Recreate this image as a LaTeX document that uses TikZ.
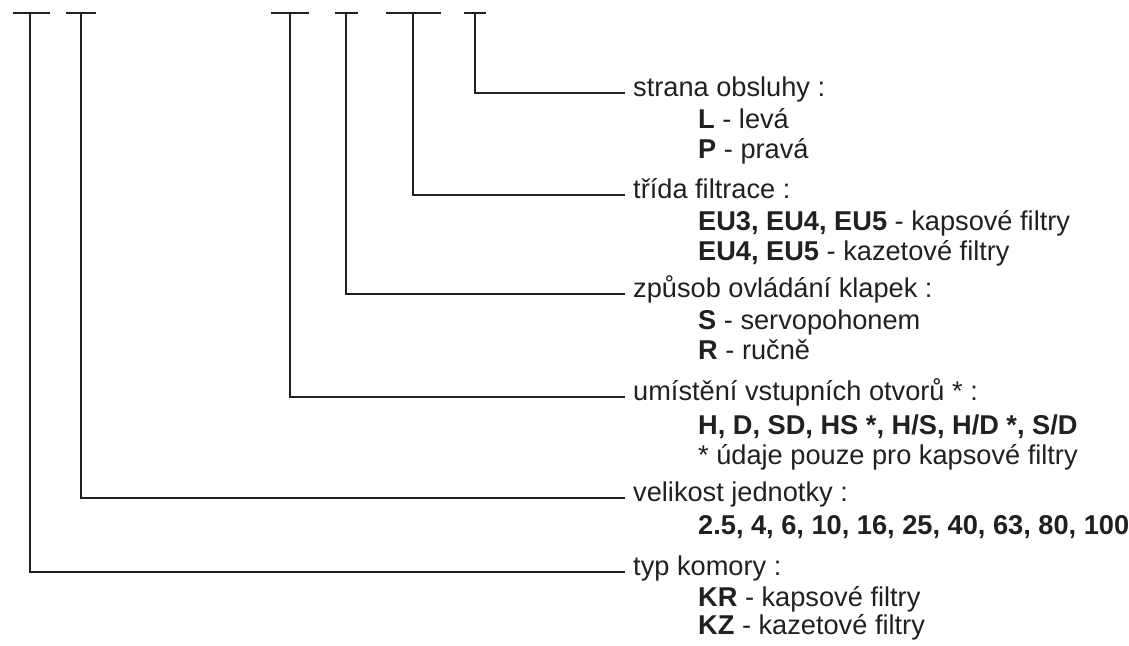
\documentclass[tikz,border=0pt]{standalone}
\usepackage{fontspec}
\setmainfont{Liberation Sans}
\usepackage{xcolor}
\usetikzlibrary{positioning, calc}
\definecolor{ink}{HTML}{231F20}

\begin{document}
\begin{tikzpicture}[
    x=1pt, y=-1pt,
    hdr/.style={anchor=west, inner xsep=8pt, inner ysep=0pt, text height=0.6em, text depth=0pt, font=\fontsize{27.2}{30}\selectfont, text=ink},
    item/.style={anchor=base west, inner sep=0pt, font=\fontsize{27.2}{30}\selectfont, text=ink},
    ln/.style={draw=ink, line width=1.6pt},
]
\useasboundingbox (0,0) rectangle (1129,645);

\foreach \n/\a/\s/\b in {1/13/30/50, 2/66/81/96, 3/271/290/309, 4/335/346/358, 5/386/413/441, 6/464/475/486} {
    \coordinate (bl\n) at (\a,13);
    \coordinate (top\n) at (\s,13);
    \coordinate (br\n) at (\b,13);
    \draw[ln] (bl\n) -- (br\n);
}

\node[hdr] (strana) at (625,93) {strana obsluhy :};
\node[item] (leva) at ($(strana.base west)+(73,32)$) {\textbf{L} - levá};
\node[item] (prava) at ($(strana.base west)+(73,62)$) {\textbf{P} - pravá};

\node[hdr] (trida) at (625,195) {třída filtrace :};
\node[item] (kapsove) at ($(trida.base west)+(73,32)$) {\textbf{EU3, EU4, EU5} - kapsové filtry};
\node[item] (kazetove) at ($(trida.base west)+(73,62)$) {\textbf{EU4, EU5} - kazetové filtry};

\node[hdr] (zpusob) at (625,294) {způsob ovládání klapek :};
\node[item] (servo) at ($(zpusob.base west)+(73,32)$) {\textbf{S} - servopohonem};
\node[item] (rucne) at ($(zpusob.base west)+(73,62)$) {\textbf{R} - ručně};

\node[hdr] (umisteni) at (625,397) {umístění vstupních otvorů * :};
\node[item] (otvory) at ($(umisteni.base west)+(73,34)$) {\textbf{H, D, SD, HS *, H/S, H/D *, S/D}};
\node[item] (pozn) at ($(umisteni.base west)+(73,64)$) {* údaje pouze pro kapsové filtry};

\node[hdr] (velikost) at (625,498) {velikost jednotky :};
\node[item] (rada) at ($(velikost.base west)+(73,33)$) {\textbf{2.5, 4, 6, 10, 16, 25, 40, 63, 80, 100}};

\node[hdr] (typ) at (625,572) {typ komory :};
\node[item] (kr) at ($(typ.base west)+(73,31)$) {\textbf{KR} - kapsové filtry};
\node[item] (kz) at ($(typ.base west)+(73,59)$) {\textbf{KZ} - kazetové filtry};

\draw[ln] (top6) |- (strana.west);
\draw[ln] (top5) |- (trida.west);
\draw[ln] (top4) |- (zpusob.west);
\draw[ln] (top3) |- (umisteni.west);
\draw[ln] (top2) |- (velikost.west);
\draw[ln] (top1) |- (typ.west);
\end{tikzpicture}
\end{document}
